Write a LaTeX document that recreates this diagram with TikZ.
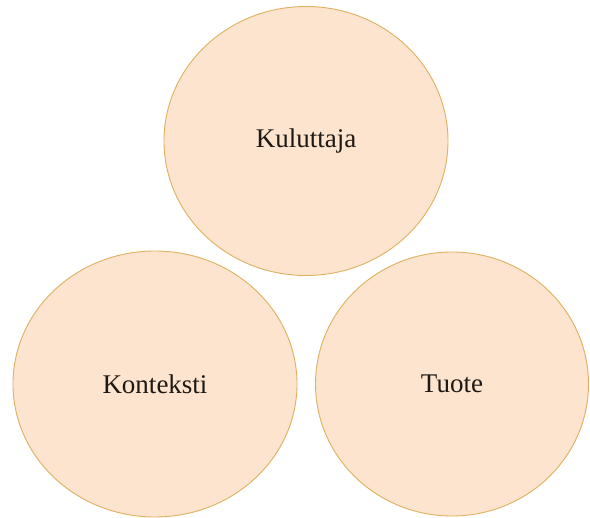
\documentclass[tikz,border=0pt]{standalone}
\usepackage{fontspec}
\setmainfont{Liberation Serif}
\usepackage{xcolor}
\definecolor{peach}{RGB}{252,228,206}
\definecolor{peachline}{RGB}{222,176,96}
\definecolor{inktext}{RGB}{30,25,20}
\usetikzlibrary{shapes.geometric}
\tikzstyle{blob} = [
    ellipse, inner sep=0pt,
    fill=peach,
    draw=peachline,
    line width=0.9pt,
    text=inktext,
    font=\fontsize{27}{32}\selectfont,
]
\begin{document}
\begin{tikzpicture}[x=1pt,y=-1pt]
    \useasboundingbox (0,0) rectangle (590,518);
    % circles
    \node (kuluttaja) at (306,141) [blob,minimum width=284pt,minimum height=269pt] {Kuluttaja};
    \node (konteksti) at (155,384) [blob,minimum width=284pt,minimum height=266pt] {Konteksti};
    \node (tuote) at (452,384) [blob,minimum width=273pt,minimum height=264pt] {Tuote};
\end{tikzpicture}
\end{document}
